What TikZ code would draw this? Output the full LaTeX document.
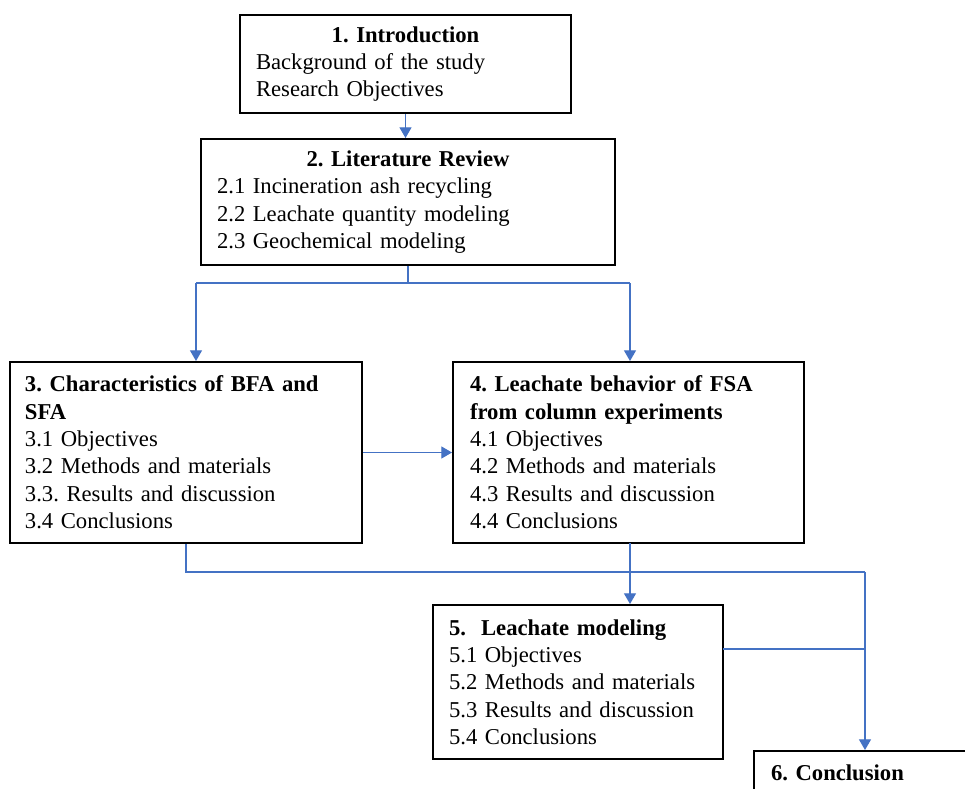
\documentclass[tikz,border=0pt]{standalone}
\usepackage{fontspec}
\setmainfont{Liberation Serif}
\usetikzlibrary{arrows.meta}
\definecolor{linkblue}{HTML}{4472C4}
\frenchspacing
\newcommand{\hd}[1]{\makebox[\linewidth]{\textbf{#1}}}
\tikzset{
  box/.style={draw=black, line width=1.5pt, fill=white, align=left, inner ysep=0pt,
    font=\fontsize{17}{20.5}\selectfont},
  link/.style={draw=linkblue, line width=0.9pt},
  arr/.style={link, -{Triangle[length=8pt,width=9pt]}}
}
\begin{document}
\begin{tikzpicture}[x=0.75pt,y=-0.75pt]
\clip (0,0) rectangle (965,789);
\fill[white] (0,0) rectangle (965,789);

\node[box, text width=224.25pt, inner xsep=12pt, minimum height=73.5pt] (b1) at (405.5,64)
  {\hd{1. Introduction}\\Background of the study\\Research Objectives};
\node[box, text width=286.5pt, inner xsep=12pt, minimum height=94.5pt] (b2) at (408,202)
  {\hd{2. Literature Review}\\2.1 Incineration ash recycling\\2.2 Leachate quantity modeling\\2.3 Geochemical modeling};
\node[box, text width=241.5pt, inner xsep=11.25pt, minimum height=135.75pt] (b3) at (186,452.5)
  {\textbf{3. Characteristics of BFA and}\\\textbf{SFA}\\3.1 Objectives\\3.2 Methods and materials\\3.3. Results and discussion\\3.4 Conclusions};
\node[box, text width=237.75pt, inner xsep=12.75pt, minimum height=135.75pt] (b4) at (628.5,452.5)
  {\textbf{4. Leachate behavior of FSA}\\\textbf{from column experiments}\\4.1 Objectives\\4.2 Methods and materials\\4.3 Results and discussion\\4.4 Conclusions};
\node[box, text width=193.5pt, inner xsep=12pt, minimum height=115.5pt] (b5) at (578,682)
  {\textbf{5.\ \ Leachate modeling}\\5.1 Objectives\\5.2 Methods and materials\\5.3 Results and discussion\\5.4 Conclusions};
\node[box, text width=199.5pt, inner xsep=12.75pt, minimum height=33pt, anchor=north west] (b6) at (753,750)
  {\textbf{6. Conclusion}};

% junction coordinates
\coordinate (j2) at (408,283);
\coordinate (t3) at (196,283);
\coordinate (t4) at (630,283);
\coordinate (j3) at (186,572);
\coordinate (jr) at (865,572);
\coordinate (j5) at (865,649);
\coordinate (s4) at (630,543);
\coordinate (s5) at (723,649);

\draw[arr] (b1.south) -- (b1.south |- b2.north);
\draw[link] (b2.south) -- (j2);
\draw[link] (t3) -- (t4);
\draw[arr] (t3) -- (t3 |- b3.north);
\draw[arr] (t4) -- (t4 |- b4.north);
\draw[arr] (b3.east) -- (b4.west);
\draw[link] (b3.south) -- (j3) -- (jr);
\draw[arr] (jr) -- (jr |- b6.north);
\draw[arr] (s4) -- (s4 |- b5.north);
\draw[link] (s5) -- (j5);
\end{tikzpicture}
\end{document}
